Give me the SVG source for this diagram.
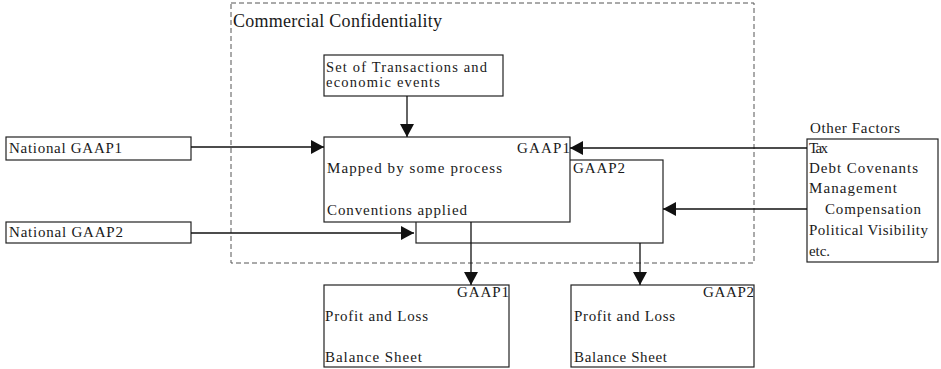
<svg xmlns="http://www.w3.org/2000/svg" width="941" height="369" viewBox="0 0 941 369">
  <style>
    .box { fill: #ffffff; stroke: #222222; stroke-width: 1.2; }
    .frame { fill: none; stroke: #555555; stroke-width: 1; stroke-dasharray: 5 3; }
    .wire { fill: none; stroke: #111111; stroke-width: 1.3; }
    text { font-family: "Liberation Serif", "Times New Roman", serif; font-size: 15px; fill: #1a1a1a; }
    .small { font-size: 14.5px; }
    .title { font-size: 18px; }
  </style>
  <defs>
    <marker id="arrow" markerUnits="userSpaceOnUse" markerWidth="14" markerHeight="14" refX="13" refY="7" orient="auto">
      <path d="M0,0 L13,7 L0,14 Z" fill="#111111"/>
    </marker>
  </defs>

  <rect fill="#ffffff" x="0" y="0" width="941" height="369"/>

  <!-- dashed boundary -->
  <g id="confidentiality">
    <rect class="frame" x="231" y="3" width="523" height="260"/>
    <text class="title" x="233" y="27" textLength="209" lengthAdjust="spacing">Commercial Confidentiality</text>
  </g>

  <g id="transactions">
    <rect class="box" x="324" y="55" width="179" height="41"/>
    <text class="small" x="326" y="72" textLength="161" lengthAdjust="spacing">Set of Transactions and</text>
    <text class="small" x="326" y="87" textLength="114" lengthAdjust="spacing">economic events</text>
  </g>

  <g id="process-gaap2">
    <rect class="box" x="416" y="160" width="247" height="83"/>
    <text x="573" y="173" textLength="52" lengthAdjust="spacing">GAAP2</text>
  </g>

  <g id="process-gaap1">
    <rect class="box" x="324" y="137" width="246" height="85"/>
    <text x="517" y="153" textLength="53" lengthAdjust="spacing">GAAP1</text>
    <text x="327" y="173" textLength="175" lengthAdjust="spacing">Mapped by some process</text>
    <text x="327" y="215" textLength="140" lengthAdjust="spacing">Conventions applied</text>
  </g>

  <g id="national-gaap1">
    <rect class="box" x="6" y="137" width="185" height="23"/>
    <text x="9" y="153" textLength="113" lengthAdjust="spacing">National GAAP1</text>
  </g>

  <g id="national-gaap2">
    <rect class="box" x="6" y="222" width="185" height="21"/>
    <text x="9" y="237" textLength="114" lengthAdjust="spacing">National GAAP2</text>
  </g>

  <g id="other-factors">
    <text x="810" y="133" textLength="90" lengthAdjust="spacing">Other Factors</text>
    <rect class="box" x="807" y="139" width="131" height="123"/>
    <text x="809" y="153" textLength="19" lengthAdjust="spacing">Tax</text>
    <text x="809" y="173" textLength="109" lengthAdjust="spacing">Debt Covenants</text>
    <text x="809" y="193" textLength="88" lengthAdjust="spacing">Management</text>
    <text x="825" y="214" textLength="96" lengthAdjust="spacing">Compensation</text>
    <text x="809" y="235" textLength="119" lengthAdjust="spacing">Political Visibility</text>
    <text x="809" y="256" textLength="21" lengthAdjust="spacing">etc.</text>
  </g>

  <g id="statements-gaap1">
    <rect class="box" x="324" y="285" width="185" height="82"/>
    <text x="457" y="297" textLength="52" lengthAdjust="spacing">GAAP1</text>
    <text x="325" y="321" textLength="103" lengthAdjust="spacing">Profit and Loss</text>
    <text x="325" y="362" textLength="97" lengthAdjust="spacing">Balance Sheet</text>
  </g>

  <g id="statements-gaap2">
    <rect class="box" x="571" y="285" width="183" height="82"/>
    <text x="703" y="297" textLength="51" lengthAdjust="spacing">GAAP2</text>
    <text x="574" y="321" textLength="101" lengthAdjust="spacing">Profit and Loss</text>
    <text x="574" y="362" textLength="93" lengthAdjust="spacing">Balance Sheet</text>
  </g>

  <g id="connectors">
    <line class="wire" x1="407" y1="96" x2="407" y2="137" marker-end="url(#arrow)"/>
    <line class="wire" x1="191" y1="147" x2="324" y2="147" marker-end="url(#arrow)"/>
    <line class="wire" x1="191" y1="233" x2="414" y2="233" marker-end="url(#arrow)"/>
    <line class="wire" x1="807" y1="148" x2="570" y2="148" marker-end="url(#arrow)"/>
    <line class="wire" x1="807" y1="209" x2="663" y2="209" marker-end="url(#arrow)"/>
    <line class="wire" x1="471" y1="222" x2="471" y2="285" marker-end="url(#arrow)"/>
    <line class="wire" x1="640" y1="243" x2="640" y2="285" marker-end="url(#arrow)"/>
  </g>
</svg>
